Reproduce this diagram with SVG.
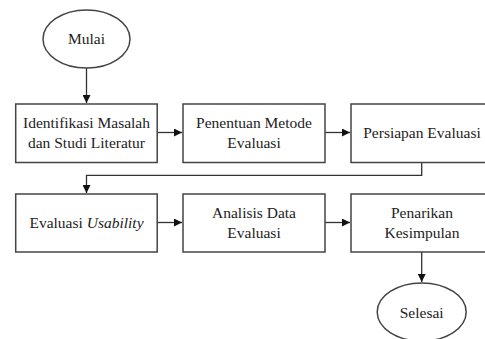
<svg xmlns="http://www.w3.org/2000/svg" width="485" height="339" viewBox="0 0 485 339">
<defs>
<style>
.n{fill:#fff;stroke:#444;stroke-width:1.5}
.t{font-family:"Liberation Serif",serif;font-size:15.5px;fill:#222;text-anchor:middle}
.c{fill:none;stroke:#333;stroke-width:1.3}
</style>
<marker id="ah" viewBox="0 0 10 10" refX="10" refY="5" markerWidth="8" markerHeight="8" markerUnits="userSpaceOnUse" orient="auto">
<path d="M0,0 L10,5 L0,10 z" fill="#111"/>
</marker>
</defs>
<rect width="485" height="339" fill="#fff"/>
<g id="connectors">
<path class="c" d="M86.5,68 V103" marker-end="url(#ah)"/>
<path class="c" d="M157,132.5 H182" marker-end="url(#ah)"/>
<path class="c" d="M325,132.5 H350" marker-end="url(#ah)"/>
<path class="c" d="M421.7,162 V175.3 H86.5 V193" marker-end="url(#ah)"/>
<path class="c" d="M157,222.5 H182" marker-end="url(#ah)"/>
<path class="c" d="M325,222.5 H350" marker-end="url(#ah)"/>
<path class="c" d="M421.7,252 V282" marker-end="url(#ah)"/>
</g>
<g id="mulai">
<ellipse class="n" cx="86.5" cy="39" rx="43.5" ry="29"/>
<text class="t" x="86.5" y="44">Mulai</text>
</g>
<g id="identifikasi">
<rect class="n" x="15.7" y="104" width="141.5" height="58.5"/>
<text class="t" x="86.5" y="128.3">Identifikasi Masalah</text>
<text class="t" x="86.5" y="148.3">dan Studi Literatur</text>
</g>
<g id="penentuan">
<rect class="n" x="183" y="104" width="142" height="58.5"/>
<text class="t" x="254" y="128.3">Penentuan Metode</text>
<text class="t" x="254" y="148.3">Evaluasi</text>
</g>
<g id="persiapan">
<rect class="n" x="351" y="104" width="142" height="58.5"/>
<text class="t" x="422" y="138">Persiapan Evaluasi</text>
</g>
<g id="usability">
<rect class="n" x="15.7" y="194" width="141.5" height="58"/>
<text class="t" x="86.5" y="228">Evaluasi <tspan font-style="italic">Usability</tspan></text>
</g>
<g id="analisis">
<rect class="n" x="183" y="194" width="142" height="58"/>
<text class="t" x="254" y="218.3">Analisis Data</text>
<text class="t" x="254" y="238.3">Evaluasi</text>
</g>
<g id="penarikan">
<rect class="n" x="351" y="194" width="142" height="58"/>
<text class="t" x="422" y="218.3">Penarikan</text>
<text class="t" x="422" y="238.3">Kesimpulan</text>
</g>
<g id="selesai">
<ellipse class="n" cx="421.7" cy="312" rx="44.5" ry="29"/>
<text class="t" x="421.7" y="318">Selesai</text>
</g>
</svg>
